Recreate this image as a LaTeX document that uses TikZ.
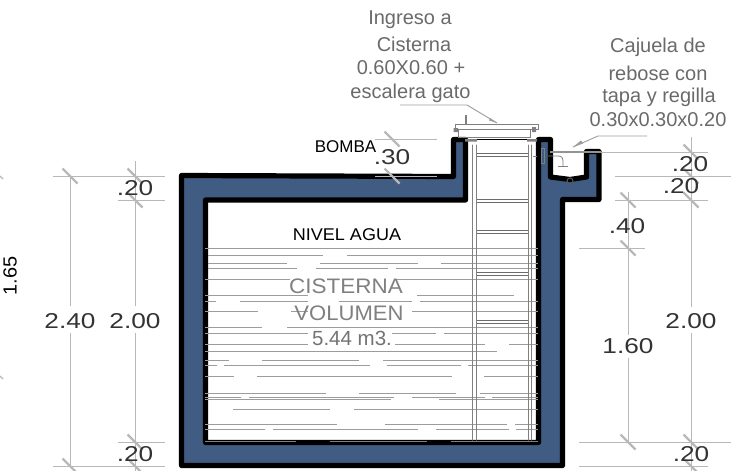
\documentclass[tikz,border=0pt]{standalone}
\usepackage{fontspec}
\setmainfont{Liberation Sans}
\definecolor{conc}{HTML}{405C82}
\definecolor{dimg}{HTML}{B8B8B8}
\definecolor{wat}{HTML}{9C9C9C}
\definecolor{dimt}{HTML}{333333}
\definecolor{notet}{HTML}{6A6A6A}
\newcommand{\wl}[2]{\foreach \a/\b in {#2}{\draw[water] (\a,#1)--(\b,#1);}}
\newcommand{\dtick}[2]{\draw[dimtick] (#1-7.5,#2-7.5)--(#1+7.5,#2+7.5);}
\newcommand{\dimlabel}[1]{\scalebox{1.22}[1]{\fontsize{21.5}{21.5}\selectfont #1}}
\newcommand{\fs}[1]{\fontsize{#1}{#1}\selectfont}
\tikzset{
  water/.style={draw=wat,line width=0.8pt},
  dimline/.style={draw=dimg,line width=0.9pt},
  dimtick/.style={draw=dimg,line width=2.4pt},
  dimnode/.style={inner sep=0pt,text=dimt},
  notenode/.style={inner sep=0pt,text=notet},
  leader/.style={draw=dimg!85!black,line width=0.9pt},
  rung/.style={draw=gray!85!black,line width=0.9pt},
  rail/.style={draw=gray,line width=1pt},
  detail/.style={draw=gray,line width=0.8pt},
}
\begin{document}
\begin{tikzpicture}[x=1pt,y=-1pt]
\useasboundingbox (0,0) rectangle (731,471);
% concrete section
\draw[fill=conc,line width=5.2pt,line join=round]
 (181.5,175.5)--(453.5,176.5)--(453.5,139.5)--(465.5,139.5)--(465.5,200)--(205.5,200)--(205.5,442.5)
 --(538.5,442.5)--(538.5,139.5)--(550.5,139.5)--(550.5,177)--(570,179.5)--(586.5,177)--(586.5,151.5)
 --(599,151.5)--(599,199.5)--(562.5,199.5)--(562.5,465.5)--(181.5,465.5)--cycle;
% water lines
\wl{248}{205/538}
\wl{255}{208/323,347/538}
\wl{263}{208/287,320/418,441/538}
\wl{268}{208/297,316/388,396/538}
\wl{279}{205/290,396/538}
\wl{295}{205/308,417/514}
\wl{301}{205/216,240/308,339/412,420/538}
\wl{311}{205/258,291/308,412/538}
\wl{327}{205/262,287/538}
\wl{333}{205/308,392/436,444/538}
\wl{344}{205/308,395/485,509/538}
\wl{351}{205/497}
\wl{360}{205/229,262/359,383/538}
\wl{365}{205/217,224/370,387/461,468/538}
\wl{376}{205/234,257/452,484/538}
\wl{393}{205/326,359/456,480/538}
\wl{397}{205/241,249/394,412/485,492/538}
\wl{399}{205/391,439/538}
\wl{409}{233/330,354/538}
\wl{424}{205/337,385/456,456/507,515/538}
\wl{429}{205/265,273/418,436/509,516/538}
\draw[draw=gray,line width=0.8pt] (205,441)--(296,441) (330,441)--(427,441) (451,441)--(538,441);
% ladder
\foreach \r in {155,201,232,274,322}{\draw[rung] (476,\r-1.2)--(528,\r-1.2) (476,\r+1.2)--(528,\r+1.2);}
\draw[rail,line cap=round] (472.5,145)--(472.5,440) (476,145)--(476,440) (528,145)--(528,440) (531.5,145)--(531.5,440);
% manhole lid
\draw[detail] (455,124) rectangle (538,129);
\draw[detail] (458,129) rectangle (530,137);
\draw[detail] (465,115)--(465,124) (466.5,115)--(466.5,124);
\draw[draw=black,line width=1pt] (465,139)--(528,139);
\fill[gray] (453.5,128) rectangle (458,132) (532,127) rectangle (536,132) (465,139) rectangle (477,141.5) (527,139) rectangle (537,141.5);
% overflow box details
\draw[detail] (541,148) rectangle (544,163);
\draw[detail] (533,156)--(537,156);
\draw[draw=dimg!80!black,line width=1.6pt] (550,152)--(601,152);
\draw[detail] (548,156)--(558,156) .. controls (562,156) and (563,158) .. (563,162)--(563,166);
\draw[detail] (558,166)--(568,166);
\draw[draw=gray!70!black,line width=1pt] (570,181) circle (3);
% leaders
\coordinate (ingA) at (400,105); \coordinate (ingB) at (467,105); \coordinate (ingC) at (497,123);
\draw[leader] (ingA)--(ingB)--(ingC);
\fill[dimg!85!black] (497,123)--(489,120.5)--(490,118)--cycle;
\coordinate (cajA) at (647,136); \coordinate (cajB) at (598,136); \coordinate (cajC) at (573,147);
\draw[leader] (cajA)--(cajB)--(cajC);
\fill[dimg!85!black] (573,147)--(581,140.5)--(583,143.5)--cycle;
% left dimensions
\draw[dimline] (53,176)--(165,176) (118,200)--(165,200) (118,442)--(165,442) (53,466)--(165,466);
\draw[dimline] (70,176)--(70,306) (70,333)--(70,466) (135,161)--(135,306) (135,333)--(135,471);
\dtick{70}{176}\dtick{135}{176}\dtick{135}{200}\dtick{135}{442}\dtick{135}{466}\dtick{70}{466}
% .30 dimension
\draw[dimline] (375,139)--(437,139) (375,176)--(437,176);
\dtick{392}{139}\dtick{392}{176}
% right dimensions
\draw[dimline] (615,176)--(731,176) (615,200)--(708,200) (579,248)--(645,248) (579,442)--(731,442) (579,466)--(708,466) (601,152)--(708,152);
\draw[dimline] (691,137)--(691,307) (691,333)--(691,471) (628,192)--(628,335) (628,358)--(628,442);
\dtick{691}{152}\dtick{691}{176}\dtick{691}{200}\dtick{691}{442}\dtick{691}{466}
\dtick{628}{200}\dtick{628}{248}\dtick{628}{442}
% stray marks at left edge
\draw[draw=dimg,line width=1.4pt] (0,176)--(3,179) (0,376)--(3,379);
% dimension labels
\node[dimnode] (d1) at (135,188) {\dimlabel{.20}};
\node[dimnode] (d2) at (70,321) {\dimlabel{2.40}};
\node[dimnode] (d3) at (135,321) {\dimlabel{2.00}};
\node[dimnode] (d4) at (135,454) {\dimlabel{.20}};
\node[dimnode] (d5) at (392,157) {\dimlabel{.30}};
\node[dimnode] (d6) at (690,164) {\dimlabel{.20}};
\node[dimnode] (d7) at (681,186) {\dimlabel{.20}};
\node[dimnode] (d8) at (627,226) {\dimlabel{.40}};
\node[dimnode] (d9) at (628,346) {\dimlabel{1.60}};
\node[dimnode] (d10) at (691,321) {\dimlabel{2.00}};
\node[dimnode] (d11) at (691,454) {\dimlabel{.20}};
\node[inner sep=0pt,text=black,rotate=90] (d12) at (10,276) {\scalebox{1.05}[1]{\fs{19}1.65}};
% labels
\node[inner sep=0pt,text=black] (bomba) at (345.5,147) {\fs{17}BOMBA};
\node[inner sep=0pt,text=black] (nivel) at (347,235) {\scalebox{1.06}[1]{\fs{17}NIVEL AGUA}};
\node[notenode,text=gray] (cis1) at (346,286) {\scalebox{1.07}[1]{\fs{21}CISTERNA}};
\node[notenode,text=gray] (cis2) at (349,313) {\scalebox{1.05}[1]{\fs{21}VOLUMEN}};
\node[notenode,text=gray!90!black] (cis3) at (352,338) {\fs{20.5}5.44 m3.};
\node[notenode] (i1) at (410,20) {\fs{20}Ingreso a};
\node[notenode] (i2) at (414,44) {\fs{20}Cisterna};
\node[notenode] (i3) at (411,68) {\fs{20}0.60X0.60 +};
\node[notenode] (i4) at (410.5,93) {\fs{20}escalera gato};
\node[notenode] (c1) at (658,47) {\fs{20}Cajuela de};
\node[notenode] (c2) at (658,73) {\fs{20}rebose con};
\node[notenode] (c3) at (659,97) {\fs{20}tapa y regilla};
\node[notenode] (c4) at (658,120) {\fs{20}0.30x0.30x0.20};
\end{tikzpicture}
\end{document}
